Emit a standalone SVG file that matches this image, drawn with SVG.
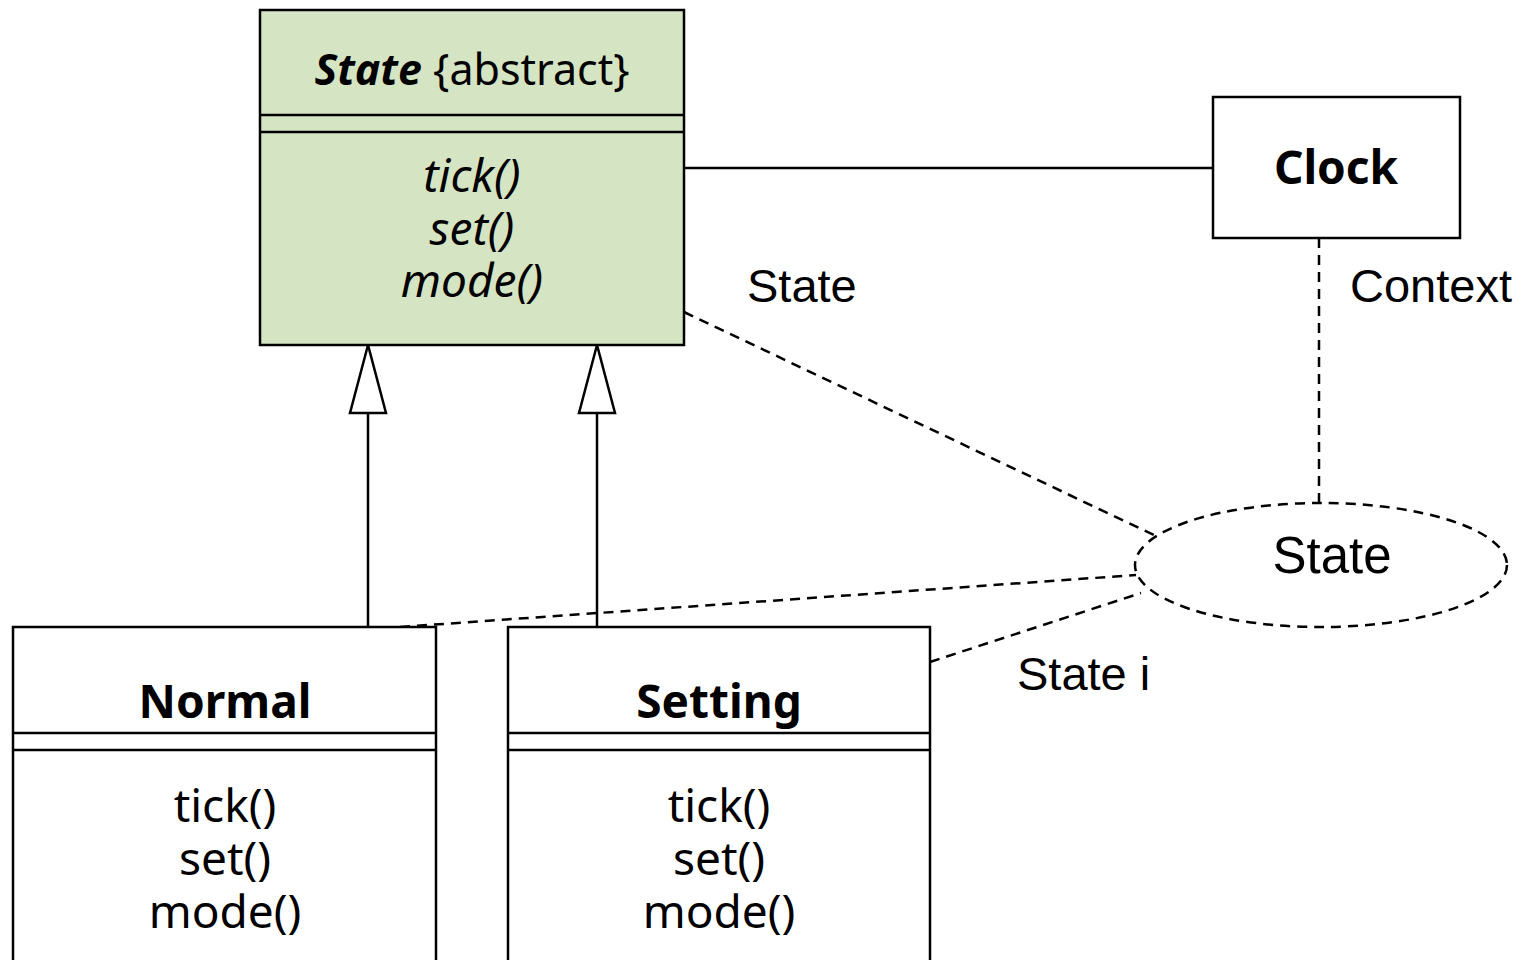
<svg xmlns="http://www.w3.org/2000/svg" width="1523" height="960" viewBox="0 0 1523 960">
<style>
.box{stroke:#000;stroke-width:2.5;}
.ln{stroke:#000;stroke-width:2.5;fill:none;}
.dash{stroke:#000;stroke-width:2.5;fill:none;stroke-dasharray:10,7;}
.cls{font-family:"Noto Sans","Open Sans",sans-serif;font-size:46px;text-anchor:middle;fill:#000;}
.ttl{font-size:43px;}
.lbl{font-family:"Liberation Sans",Arial,sans-serif;font-size:47px;fill:#000;}
.big{font-size:51px;text-anchor:middle;}
</style>
<rect width="1523" height="960" fill="#fff"/>
<g id="connectors">
<line class="ln" x1="684" y1="168" x2="1213" y2="168"/>
<line class="ln" x1="368" y1="413" x2="368" y2="627"/>
<polygon class="ln" fill="#fff" points="368,345 350,413 386,413"/>
<line class="ln" x1="597" y1="413" x2="597" y2="627"/>
<polygon class="ln" fill="#fff" points="597,345 579,413 615,413"/>
<line class="dash" x1="1319" y1="238" x2="1319" y2="503"/>
<line class="dash" x1="684" y1="312" x2="1158" y2="537"/>
<line class="dash" x1="400" y1="627" x2="1136" y2="575"/>
<line class="dash" x1="930" y1="662" x2="1141" y2="593"/>
</g>
<g id="state">
<rect class="box" x="260" y="10" width="424" height="335" fill="#d5e4c3"/>
<line class="ln" x1="260" y1="115" x2="684" y2="115"/>
<line class="ln" x1="260" y1="132" x2="684" y2="132"/>
<text class="cls ttl" x="472" y="85"><tspan font-weight="bold" font-style="italic">State</tspan> {abstract}</text>
<text class="cls" x="472" y="192" font-style="italic">tick()</text>
<text class="cls" x="472" y="245" font-style="italic">set()</text>
<text class="cls" x="472" y="297" font-style="italic">mode()</text>
</g>
<g id="clock">
<rect class="box" x="1213" y="97" width="247" height="141" fill="#fff"/>
<text class="cls" x="1336" y="184" font-weight="bold">Clock</text>
</g>
<g id="normal">
<rect class="box" x="13" y="627" width="423" height="345" fill="#fff"/>
<line class="ln" x1="13" y1="733" x2="436" y2="733"/>
<line class="ln" x1="13" y1="750" x2="436" y2="750"/>
<text class="cls" x="225" y="718" font-weight="bold">Normal</text>
<text class="cls" x="225" y="822">tick()</text>
<text class="cls" x="225" y="875">set()</text>
<text class="cls" x="225" y="928">mode()</text>
</g>
<g id="setting">
<rect class="box" x="508" y="627" width="422" height="345" fill="#fff"/>
<line class="ln" x1="508" y1="733" x2="930" y2="733"/>
<line class="ln" x1="508" y1="750" x2="930" y2="750"/>
<text class="cls" x="719" y="718" font-weight="bold">Setting</text>
<text class="cls" x="719" y="822">tick()</text>
<text class="cls" x="719" y="875">set()</text>
<text class="cls" x="719" y="928">mode()</text>
</g>
<g id="collab">
<ellipse class="dash" cx="1321" cy="565" rx="186" ry="62" fill="#fff"/>
<text class="lbl big" x="1332" y="573">State</text>
</g>
<g id="labels">
<text class="lbl" x="747" y="302">State</text>
<text class="lbl" x="1350" y="302">Context</text>
<text class="lbl" x="1017" y="690">State i</text>
</g>
</svg>
